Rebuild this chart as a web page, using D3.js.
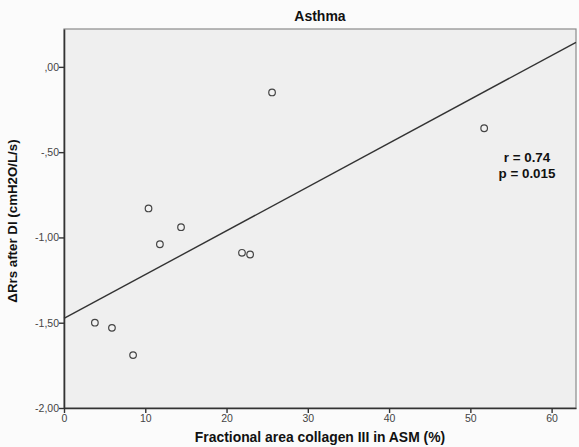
<!DOCTYPE html>
<html>
<head>
<meta charset="utf-8">
<script src="https://cdn.jsdelivr.net/npm/d3@7"></script>
<style>
  body { margin: 0; background: #fbfbfb; }
  svg { display: block; }
</style>
</head>
<body>
<div id="chart"></div>
<script>
// data
var collagen = [25.6, 51.7, 10.4, 11.8, 14.4, 21.9, 22.9, 3.8, 5.9, 8.5];
var deltaRrs = [-0.15, -0.36, -0.83, -1.04, -0.94, -1.09, -1.10, -1.50, -1.53, -1.69];
var xTicks = [0, 10, 20, 30, 40, 50, 60];
var yTicks = [0, -0.5, -1, -1.5, -2];
var yTickLabels = [",00", "-,50", "-1,00", "-1,50", "-2,00"];
var fitIntercept = -1.475;
var fitSlope = 0.0257;
var statLines = ["r = 0.74", "p = 0.015"];

var w = 579, h = 447;
var margin = { left: 64, right: 3, top: 29, bottom: 39 };

var svg = d3.select("#chart").append("svg")
  .attr("width", w)
  .attr("height", h);

var xScale = d3.scaleLinear()
  .domain([0, 63])
  .range([margin.left, w - margin.right]);

var yScale = d3.scaleLinear()
  .domain([-2, 0.222])
  .range([h - margin.bottom, margin.top]);

//plot area
svg.append("rect")
  .attr("x", margin.left)
  .attr("y", margin.top)
  .attr("width", w - margin.right - margin.left)
  .attr("height", h - margin.bottom - margin.top)
  .attr("fill", "#efefef")
  .attr("stroke", "#8a8a8a")
  .attr("stroke-width", 1.2);

//title
svg.append("text")
  .text("Asthma")
  .attr("x", (xScale.range()[0] + xScale.range()[1]) / 2)
  .attr("y", 21)
  .attr("text-anchor", "middle")
  .attr("font-family", "Liberation Sans, Arial, sans-serif")
  .attr("font-weight", "bold")
  .attr("font-size", "14px")
  .attr("fill", "#111");

//axes
var xAxis = d3.axisBottom(xScale)
  .tickValues(xTicks)
  .tickSize(5)
  .tickSizeOuter(0);

var yAxis = d3.axisLeft(yScale)
  .tickValues(yTicks)
  .tickSize(5)
  .tickSizeOuter(0)
  .tickFormat(function(d, i) { return yTickLabels[i]; });

var gx = svg.append("g")
  .attr("transform", "translate(0," + (h - margin.bottom) + ")")
  .call(xAxis);

var gy = svg.append("g")
  .attr("transform", "translate(" + margin.left + ",0)")
  .call(yAxis);

[gx, gy].forEach(function(g) {
  g.select(".domain").attr("stroke", "#333").attr("stroke-width", 1.6);
  g.selectAll(".tick line").attr("stroke", "#333").attr("stroke-width", 1.4);
  g.selectAll(".tick text")
    .attr("font-family", "Liberation Sans, Arial, sans-serif")
    .attr("font-size", "10.5px")
    .attr("fill", "#444");
});
gy.selectAll(".tick text").attr("x", -5).attr("dy", "0.32em");
gx.selectAll(".tick text").attr("y", 7);

//regression line
svg.append("line")
  .attr("x1", xScale(0))
  .attr("y1", yScale(fitIntercept))
  .attr("x2", xScale(63))
  .attr("y2", yScale(fitIntercept + fitSlope * 63))
  .attr("stroke", "#333")
  .attr("stroke-width", 1.4);

//points
svg.selectAll("circle.pt")
  .data(collagen)
  .enter()
  .append("circle")
  .attr("class", "pt")
  .attr("cx", function(d) { return xScale(d); })
  .attr("cy", function(d, i) { return yScale(deltaRrs[i]); })
  .attr("r", 3.3)
  .attr("fill", "#f2f2f2")
  .attr("stroke", "#444")
  .attr("stroke-width", 1.2);

//r and p
svg.selectAll("text.stat")
  .data(statLines)
  .enter()
  .append("text")
  .attr("class", "stat")
  .text(function(d) { return d; })
  .attr("x", 527)
  .attr("y", function(d, i) { return 162 + i * 16; })
  .attr("text-anchor", "middle")
  .attr("font-family", "Liberation Sans, Arial, sans-serif")
  .attr("font-weight", "bold")
  .attr("font-size", "13.4px")
  .attr("fill", "#111");

//axis titles
svg.append("text")
  .text("Fractional area collagen III in ASM (%)")
  .attr("x", 320)
  .attr("y", 442)
  .attr("text-anchor", "middle")
  .attr("font-family", "Liberation Sans, Arial, sans-serif")
  .attr("font-weight", "bold")
  .attr("font-size", "13.9px")
  .attr("fill", "#111");

svg.append("text")
  .text("ΔRrs after DI (cmH2O/L/s)")
  .attr("transform", "translate(17,221) rotate(-90)")
  .attr("text-anchor", "middle")
  .attr("font-family", "Liberation Sans, Arial, sans-serif")
  .attr("font-weight", "bold")
  .attr("font-size", "13.3px")
  .attr("fill", "#111");
</script>
</body>
</html>
